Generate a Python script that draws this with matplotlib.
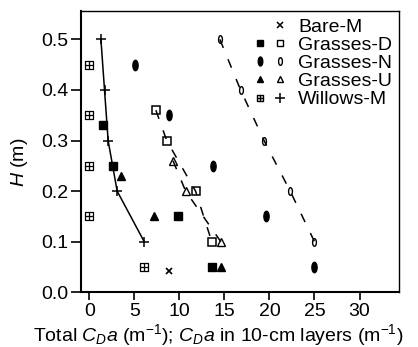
import numpy as np
import matplotlib
matplotlib.use('Agg')
import matplotlib.pyplot as plt
from matplotlib.path import Path
from matplotlib.lines import Line2D
from matplotlib.legend_handler import HandlerTuple

plt.rcParams['font.family'] = 'Liberation Sans'
plt.rcParams['mathtext.fontset'] = 'custom'
plt.rcParams['mathtext.rm'] = 'Liberation Sans'
plt.rcParams['mathtext.it'] = 'Liberation Sans:italic'

# Willows-M: total (line with +) and per-layer values (boxed cross)
willow_tot_x = [1.3, 1.7, 2.1, 3.1, 6.1]
willow_tot_y = [0.5, 0.4, 0.3, 0.2, 0.1]
willow_lay_x = [0, 0, 0, 0, 6.1]
willow_lay_y = [0.45, 0.35, 0.25, 0.15, 0.05]

# Bare-M
bare_x = [8.9]
bare_y = [0.042]

# Grasses-D
gd_lay_x = [1.5, 2.6, 9.9, 13.6]
gd_lay_y = [0.33, 0.25, 0.15, 0.05]
gd_tot_x = [7.4, 8.6, 11.8, 13.6]
gd_tot_y = [0.36, 0.30, 0.20, 0.10]

# Grasses-N
gn_lay_x = [5.1, 8.9, 13.7, 19.6, 25.0]
gn_lay_y = [0.45, 0.35, 0.25, 0.15, 0.05]
gn_tot_x = [14.5, 16.8, 19.4, 22.3, 25.0]
gn_tot_y = [0.5, 0.4, 0.3, 0.2, 0.1]

# Grasses-U
gu_lay_x = [3.5, 7.2, 14.6]
gu_lay_y = [0.23, 0.15, 0.05]
gu_tot_x = [9.3, 10.7, 14.6]
gu_tot_y = [0.26, 0.20, 0.10]

# custom markers
circ = Path.unit_circle()
ellipse = Path(circ.vertices * np.array([0.5, 1.0]), circ.codes)
boxcross = Path([(-1, -1), (1, -1), (1, 1), (-1, 1), (-1, -1),
                 (-1, 0), (1, 0), (0, -1), (0, 1)],
                [Path.MOVETO, Path.LINETO, Path.LINETO, Path.LINETO, Path.CLOSEPOLY,
                 Path.MOVETO, Path.LINETO, Path.MOVETO, Path.LINETO])

fig = plt.figure(figsize=(4.18, 3.47), dpi=100)
ax = fig.add_axes([0.194, 0.158, 0.761, 0.810])

dash = (6, 8)

# Willows
ax.plot(willow_tot_x, willow_tot_y, 'k-', lw=1.1, marker='+', ms=7, mew=1.1)
ax.plot(willow_lay_x, willow_lay_y, ls='none', marker=boxcross, ms=6, mfc='white', mec='k', mew=0.9)

# Bare
ax.plot(bare_x, bare_y, ls='none', marker='x', ms=4.5, mec='k', mew=1.2)

# Grasses-D
ax.plot(gd_tot_x, gd_tot_y, 'k', lw=1.1, dashes=dash, marker='s', ms=5.5, mfc='none', mec='k', mew=1.1)
ax.plot(gd_lay_x, gd_lay_y, ls='none', marker='s', ms=5.2, color='k')

# Grasses-N
ax.plot(gn_tot_x, gn_tot_y, 'k', lw=1.1, dashes=dash, marker=ellipse, ms=5.5, mfc='none', mec='k', mew=1.0)
ax.plot(gn_lay_x, gn_lay_y, ls='none', marker=ellipse, ms=7.5, color='k')

# Grasses-U
ax.plot(gu_tot_x, gu_tot_y, 'k', lw=1.1, dashes=dash, marker='^', ms=6, mfc='none', mec='k', mew=1.0)
ax.plot(gu_lay_x, gu_lay_y, ls='none', marker='^', ms=6, color='k')

ax.set_xlim(-0.9, 34.4)
ax.set_ylim(0, 0.556)
ax.set_xticks([0, 5, 10, 15, 20, 25, 30])
ax.set_yticks([0.0, 0.1, 0.2, 0.3, 0.4, 0.5])
ax.tick_params(direction='out', width=1.2, labelsize=14, pad=2)
ax.tick_params(axis='y', length=7)
ax.tick_params(axis='x', length=6)
for s in ['left', 'bottom']:
    ax.spines[s].set_linewidth(1.5)
for s in ['top', 'right']:
    ax.spines[s].set_linewidth(1.0)

ax.set_xlabel('Total $C_Da$ (m$^{-1}$); $C_Da$ in 10-cm layers (m$^{-1}$)', fontsize=14)
ax.xaxis.set_label_coords(0.432, -0.105)
ax.set_ylabel('$H$ (m)', fontsize=14)
ax.yaxis.set_label_coords(-0.16, 0.463)

def mk(marker, filled=True, ms=4.5):
    if filled:
        return Line2D([], [], ls='none', marker=marker, ms=ms, color='k')
    return Line2D([], [], ls='none', marker=marker, ms=ms, mfc='none', mec='k', mew=1.0)

blank = Line2D([], [], ls='none', marker='s', ms=4, mfc='none', mec='none')
handles = [
    (blank, Line2D([], [], ls='none', marker='x', ms=4, mec='k', mew=1.1)),
    (mk('s', ms=4.3), mk('s', False, ms=4.3)),
    (mk(ellipse, ms=6.5), mk(ellipse, False, ms=5.5)),
    (mk('^', ms=5), mk('^', False, ms=5)),
    (mk(boxcross, False, ms=5), Line2D([], [], ls='none', marker='+', ms=7, mec='k', mew=1.1)),
]
labels = ['Bare-M', 'Grasses-D', 'Grasses-N', 'Grasses-U', 'Willows-M']
ax.legend(handles, labels, handler_map={tuple: HandlerTuple(ndivide=None, pad=0.52)},
          loc='upper right', bbox_to_anchor=(1.0, 1.0), frameon=False,
          fontsize=14, handlelength=1.55, handletextpad=0.67,
          labelspacing=0.03, borderaxespad=0.0, borderpad=0.36)

fig.savefig('out.png', dpi=100)
